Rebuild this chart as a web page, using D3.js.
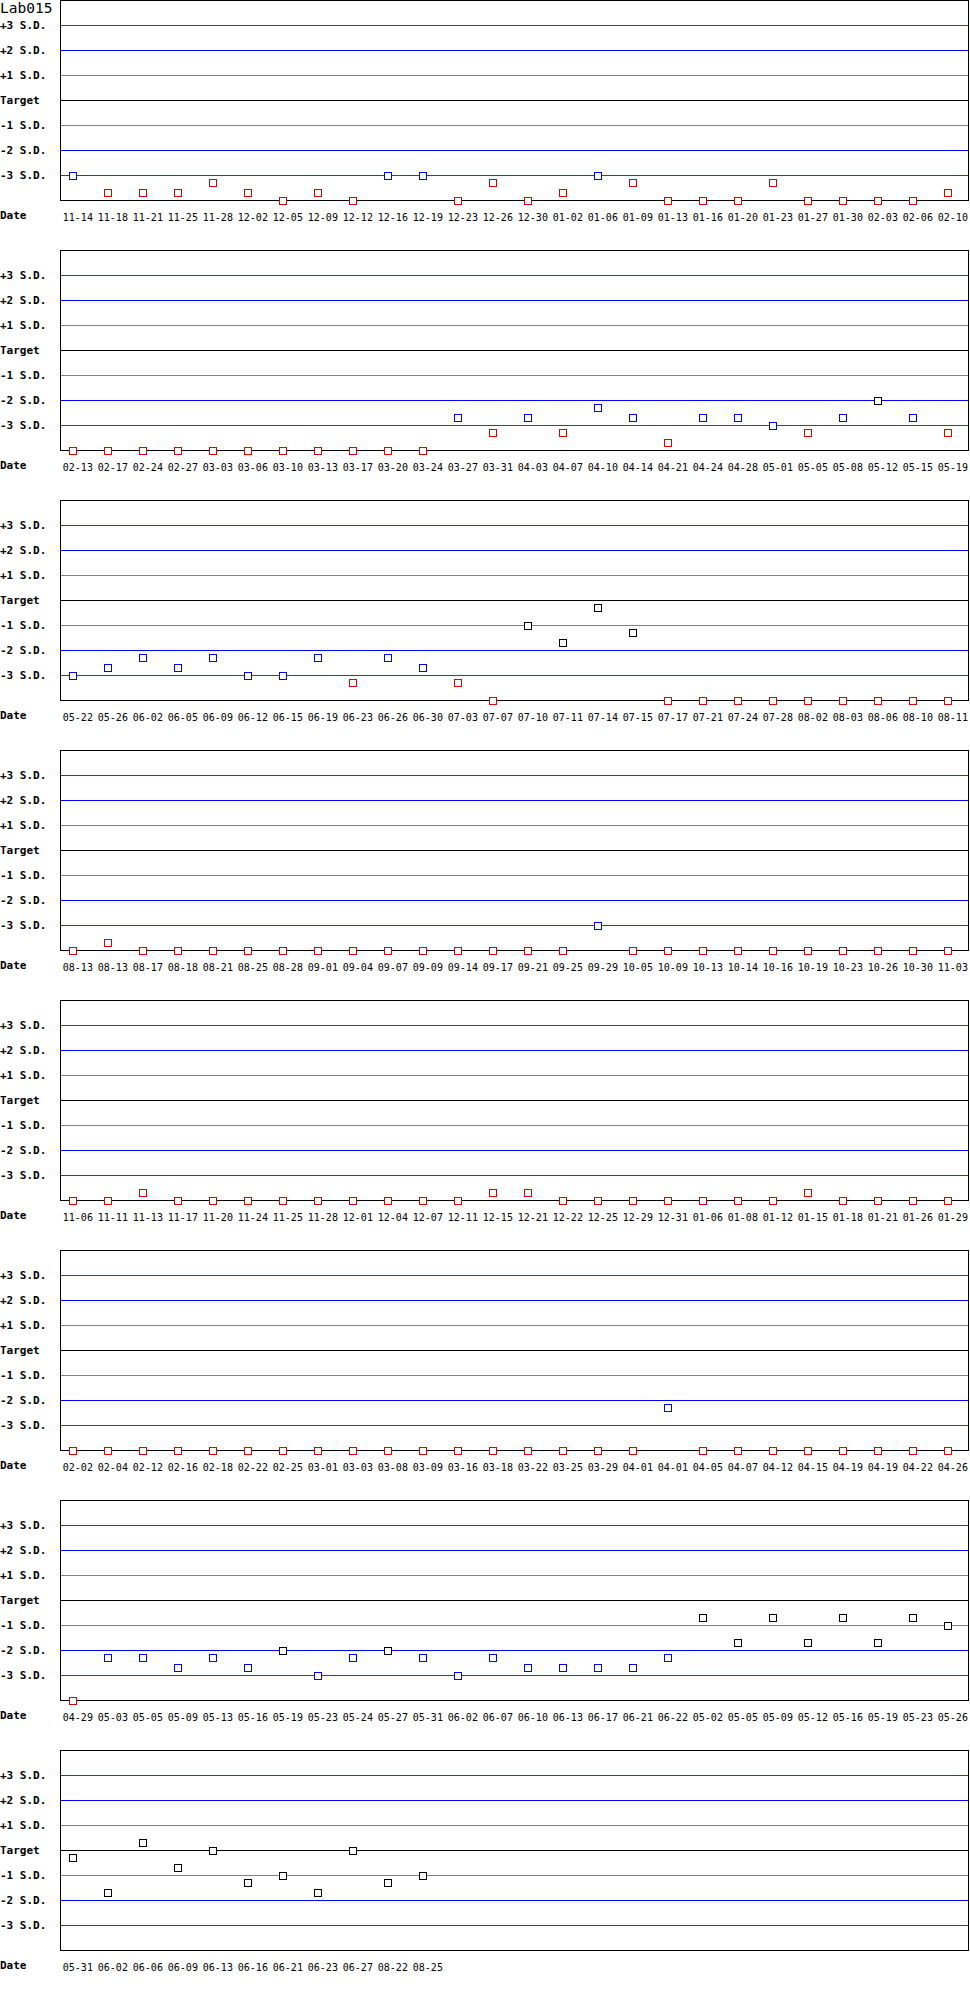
<!DOCTYPE html>
<html>
<head>
<meta charset="utf-8">
<script src="https://cdn.jsdelivr.net/npm/d3@7"></script>
<style>
  body { margin: 0; background: #fff; }
  svg { display: block; }
</style>
</head>
<body>
<script>
// Lab015 QC chart, values in S.D. units (-4 = off the bottom of the scale)
const title = "Lab015"

const sdLevels = [3, 2, 1, 0, -1, -2, -3]
const sdLabels = ["+3 S.D.", "+2 S.D.", "+1 S.D.", "Target", "-1 S.D.", "-2 S.D.", "-3 S.D."]
const sdColors = ["#e00000", "#0000ff", "#808080", "#000000", "#808080", "#0000ff", "#e00000"]

const dateRows = [
    ["11-14","11-18","11-21","11-25","11-28","12-02","12-05","12-09","12-12","12-16","12-19","12-23","12-26",
     "12-30","01-02","01-06","01-09","01-13","01-16","01-20","01-23","01-27","01-30","02-03","02-06","02-10"],
    ["02-13","02-17","02-24","02-27","03-03","03-06","03-10","03-13","03-17","03-20","03-24","03-27","03-31",
     "04-03","04-07","04-10","04-14","04-21","04-24","04-28","05-01","05-05","05-08","05-12","05-15","05-19"],
    ["05-22","05-26","06-02","06-05","06-09","06-12","06-15","06-19","06-23","06-26","06-30","07-03","07-07",
     "07-10","07-11","07-14","07-15","07-17","07-21","07-24","07-28","08-02","08-03","08-06","08-10","08-11"],
    ["08-13","08-13","08-17","08-18","08-21","08-25","08-28","09-01","09-04","09-07","09-09","09-14","09-17",
     "09-21","09-25","09-29","10-05","10-09","10-13","10-14","10-16","10-19","10-23","10-26","10-30","11-03"],
    ["11-06","11-11","11-13","11-17","11-20","11-24","11-25","11-28","12-01","12-04","12-07","12-11","12-15",
     "12-21","12-22","12-25","12-29","12-31","01-06","01-08","01-12","01-15","01-18","01-21","01-26","01-29"],
    ["02-02","02-04","02-12","02-16","02-18","02-22","02-25","03-01","03-03","03-08","03-09","03-16","03-18",
     "03-22","03-25","03-29","04-01","04-01","04-05","04-07","04-12","04-15","04-19","04-19","04-22","04-26"],
    ["04-29","05-03","05-05","05-09","05-13","05-16","05-19","05-23","05-24","05-27","05-31","06-02","06-07",
     "06-10","06-13","06-17","06-21","06-22","05-02","05-05","05-09","05-12","05-16","05-19","05-23","05-26"],
    ["05-31","06-02","06-06","06-09","06-13","06-16","06-21","06-23","06-27","08-22","08-25"]
]

const valueRows = [
    [-3,-3.7,-3.7,-3.7,-3.3,-3.7,-4,-3.7,-4,-3,-3,-4,-3.3,
     -4,-3.7,-3,-3.3,-4,-4,-4,-3.3,-4,-4,-4,-4,-3.7],
    [-4,-4,-4,-4,-4,-4,-4,-4,-4,-4,-4,-2.7,-3.3,
     -2.7,-3.3,-2.3,-2.7,-3.7,-2.7,-2.7,-3,-3.3,-2.7,-2,-2.7,-3.3],
    [-3,-2.7,-2.3,-2.7,-2.3,-3,-3,-2.3,-3.3,-2.3,-2.7,-3.3,-4,
     -1,-1.7,-0.3,-1.3,-4,-4,-4,-4,-4,-4,-4,-4,-4],
    [-4,-3.7,-4,-4,-4,-4,-4,-4,-4,-4,-4,-4,-4,
     -4,-4,-3,-4,-4,-4,-4,-4,-4,-4,-4,-4,-4],
    [-4,-4,-3.7,-4,-4,-4,-4,-4,-4,-4,-4,-4,-3.7,
     -3.7,-4,-4,-4,-4,-4,-4,-4,-3.7,-4,-4,-4,-4],
    [-4,-4,-4,-4,-4,-4,-4,-4,-4,-4,-4,-4,-4,
     -4,-4,-4,-4,-2.3,-4,-4,-4,-4,-4,-4,-4,-4],
    [-4,-2.3,-2.3,-2.7,-2.3,-2.7,-2,-3,-2.3,-2,-2.3,-3,-2.3,
     -2.7,-2.7,-2.7,-2.7,-2.3,-0.7,-1.7,-0.7,-1.7,-0.7,-1.7,-0.7,-1],
    [-0.3,-1.7,0.3,-0.7,0,-1.3,-1,-1.7,0,-1.3,-1]
]

const width = 970
const height = 2000
const panelHeight = 250
const plotLeft = 60
const plotRight = 968
const plotHeight = 200
const slots = 26
const markerSize = 7

const monoFont = "'DejaVu Sans Mono', 'Liberation Mono', monospace"

let svg = d3.select("body").append("svg")
    .attr("width", width)
    .attr("height", height)

let x = d3.scalePoint()
    .domain(d3.range(slots))
    .range([72.3, 947.3])

let y = d3.scaleLinear()
    .domain([-4, 4])
    .range([plotHeight, 0])

function pointColor(v) {
    if (v < -3) return "#e00000"
    if (v < -2) return "#0000ff"
    return "#000000"
}

function drawPanel(g, dates, values, showTitle) {
    // reference lines
    g.selectAll("line.sd")
        .data(sdLevels).enter()
        .append("line")
            .attr("class", "sd")
            .attr("x1", plotLeft)
            .attr("x2", plotRight)
            .attr("y1", d => Math.round(y(d)) + 0.5)
            .attr("y2", d => Math.round(y(d)) + 0.5)
            .attr("stroke", (d, i) => sdColors[i])
            .attr("stroke-width", 1)

    // frame
    g.append("rect")
        .attr("x", plotLeft + 0.5)
        .attr("y", 0.5)
        .attr("width", plotRight - plotLeft)
        .attr("height", plotHeight)
        .attr("fill", "none")
        .attr("stroke", "#000")
        .attr("stroke-width", 1)

    // S.D. labels, left aligned at x = 0
    let yAxis = d3.axisRight(y)
        .tickValues(sdLevels)
        .tickFormat((d, i) => sdLabels[i])
        .tickSize(0)
        .tickPadding(0)
    let ya = g.append("g").call(yAxis)
    ya.select(".domain").remove()
    ya.selectAll("text")
        .attr("x", 0)
        .attr("dy", "0.34em")
        .style("font-family", monoFont)
        .style("font-size", "11px")
        .style("font-weight", "bold")
        .attr("fill", "#000")

    // date labels
    let xAxis = d3.axisBottom(x)
        .tickValues(d3.range(dates.length))
        .tickFormat(i => dates[i])
        .tickSize(0)
        .tickPadding(0)
    let xa = g.append("g")
        .attr("transform", "translate(0," + 214 + ")")
        .call(xAxis)
    xa.select(".domain").remove()
    xa.selectAll("text")
        .attr("text-anchor", "start")
        .attr("dx", -10)
        .style("font-family", monoFont)
        .style("font-size", "10px")
        .attr("fill", "#000")

    g.append("text")
        .attr("x", 0)
        .attr("y", 218.5)
        .style("font-family", monoFont)
        .style("font-size", "11px")
        .style("font-weight", "bold")
        .text("Date")

    if (showTitle) {
        g.append("text")
            .attr("x", 0)
            .attr("y", 12.5)
            .style("font-family", monoFont)
            .style("font-size", "14.5px")
            .text(title)
    }

    // markers
    g.selectAll("rect.pt")
        .data(values).enter()
        .append("rect")
            .attr("class", "pt")
            .attr("x", (d, i) => Math.round(x(i) - markerSize / 2) + 0.5)
            .attr("y", d => Math.round(y(d) - markerSize / 2) + 0.5)
            .attr("width", markerSize)
            .attr("height", markerSize)
            .attr("fill", "#fff")
            .attr("stroke", d => pointColor(d))
            .attr("stroke-width", 1)
}

dateRows.forEach((dates, k) => {
    let g = svg.append("g")
        .attr("transform", "translate(0," + (k * panelHeight) + ")")
    drawPanel(g, dates, valueRows[k], k === 0)
})
</script>
</body>
</html>
